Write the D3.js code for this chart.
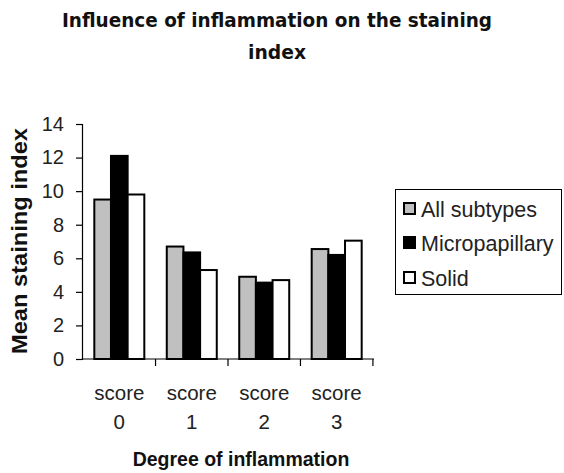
<!DOCTYPE html>
<html>
<head>
<meta charset="utf-8">
<script src="https://cdn.jsdelivr.net/npm/d3@7"></script>
<style>
  html, body { margin: 0; padding: 0; background: #fff; }
  svg { display: block; }
</style>
</head>
<body>
<svg id="chart" width="564" height="473"></svg>
<script>
// Mean staining index by degree of inflammation, per tumour subtype
const categories = ["score 0", "score 1", "score 2", "score 3"];
const seriesNames = ["All subtypes", "Micropapillary", "Solid"];
const allSubtypes = [9.5, 6.7, 4.9, 6.55];
const micropapillary = [12.1, 6.35, 4.55, 6.2];
const solid = [9.8, 5.3, 4.7, 7.05];
const yTicks = [0, 2, 4, 6, 8, 10, 12, 14];
const seriesFill = ["#c0c0c0", "#000000", "#ffffff"];

const series = [allSubtypes, micropapillary, solid];

const svg = d3.select("#chart");
const plot = { left: 82, right: 374, top: 124, bottom: 359 };

const x = d3.scaleBand().domain(categories).range([plot.left, plot.right])
  .paddingInner(0.31).paddingOuter(0.17);
const xInner = d3.scaleBand().domain(seriesNames).range([0, x.bandwidth()]);
const y = d3.scaleLinear().domain([0, 14]).range([plot.bottom, plot.top]);

// Title
const title = svg.append("g")
  .attr("font-family", "DejaVu Sans")
  .attr("font-weight", "bold")
  .attr("font-size", 20)
  .attr("fill", "#111")
  .attr("text-anchor", "middle");
title.append("text").attr("x", 277).attr("y", 27)
  .attr("textLength", 430).attr("lengthAdjust", "spacingAndGlyphs")
  .text("Influence of inflammation on the staining");
title.append("text").attr("x", 277).attr("y", 59)
  .attr("textLength", 58).attr("lengthAdjust", "spacingAndGlyphs")
  .text("index");

// Bars
const groups = svg.append("g").selectAll("g")
  .data(categories)
  .join("g")
  .attr("transform", d => `translate(${x(d)},0)`);

groups.selectAll("rect")
  .data((c, i) => series.map((s, k) => ({ name: seriesNames[k], value: s[i], k })))
  .join("rect")
  .attr("x", d => xInner(d.name))
  .attr("y", d => y(d.value))
  .attr("width", xInner.bandwidth())
  .attr("height", d => y(0) - y(d.value))
  .attr("fill", d => seriesFill[d.k])
  .attr("stroke", "#000")
  .attr("stroke-width", 2);

// Y axis
const yAxis = svg.append("g")
  .attr("transform", `translate(${plot.left},0)`)
  .call(d3.axisLeft(y).tickValues(yTicks).tickSize(6).tickPadding(12));
yAxis.select(".domain").attr("stroke", "#000").attr("stroke-width", 1.2);
yAxis.selectAll(".tick line").attr("stroke", "#000").attr("stroke-width", 1.2);
yAxis.selectAll(".tick text")
  .attr("font-family", "Liberation Sans")
  .attr("font-size", 20)
  .attr("fill", "#222");

// X axis: ticks between categories, two-line labels
const xAxis = svg.append("g").attr("transform", `translate(0,${plot.bottom})`);
xAxis.append("line").attr("x1", plot.left).attr("x2", plot.right)
  .attr("stroke", "#000").attr("stroke-width", 1.2);
const boundaries = categories.map(c => x(c) + x.bandwidth() + x.step() * x.paddingInner() / 2);
xAxis.selectAll("line.tk").data(boundaries).join("line")
  .attr("class", "tk")
  .attr("x1", d => d).attr("x2", d => d)
  .attr("y1", 0).attr("y2", 7)
  .attr("stroke", "#000").attr("stroke-width", 1.2);

const xLabels = svg.append("g")
  .attr("font-family", "Liberation Sans")
  .attr("font-size", 20.5)
  .attr("fill", "#222")
  .attr("text-anchor", "middle");
categories.forEach(c => {
  const [word, num] = c.split(" ");
  const cx = x(c) + x.bandwidth() / 2;
  const t = xLabels.append("text").attr("x", cx);
  t.append("tspan").attr("x", cx).attr("y", 400).text(word);
  t.append("tspan").attr("x", cx).attr("y", 429).text(num);
});

// Axis titles
svg.append("text")
  .attr("x", 241).attr("y", 466)
  .attr("text-anchor", "middle")
  .attr("font-family", "Liberation Sans")
  .attr("font-weight", "bold")
  .attr("font-size", 19.5)
  .attr("fill", "#111")
  .text("Degree of inflammation");

svg.append("text")
  .attr("transform", "translate(27,241) rotate(-90)")
  .attr("text-anchor", "middle")
  .attr("font-family", "Liberation Sans")
  .attr("font-weight", "bold")
  .attr("font-size", 22)
  .attr("textLength", 226).attr("lengthAdjust", "spacingAndGlyphs")
  .attr("fill", "#111")
  .text("Mean staining index");

// Legend
const legend = svg.append("g");
legend.append("rect")
  .attr("x", 395.5).attr("y", 189.5).attr("width", 166).attr("height", 105)
  .attr("fill", "#fff").attr("stroke", "#000").attr("stroke-width", 1);
const rowY = [209, 243, 278];
seriesNames.forEach((name, k) => {
  legend.append("rect")
    .attr("x", 404).attr("y", rowY[k] - 6).attr("width", 11).attr("height", 11)
    .attr("fill", seriesFill[k]).attr("stroke", "#000").attr("stroke-width", 2);
  legend.append("text")
    .attr("x", 421).attr("y", rowY[k] + 7.5)
    .attr("font-family", "Liberation Sans")
    .attr("font-size", 21.5)
    .attr("fill", "#222")
    .text(name);
});
</script>
</body>
</html>
